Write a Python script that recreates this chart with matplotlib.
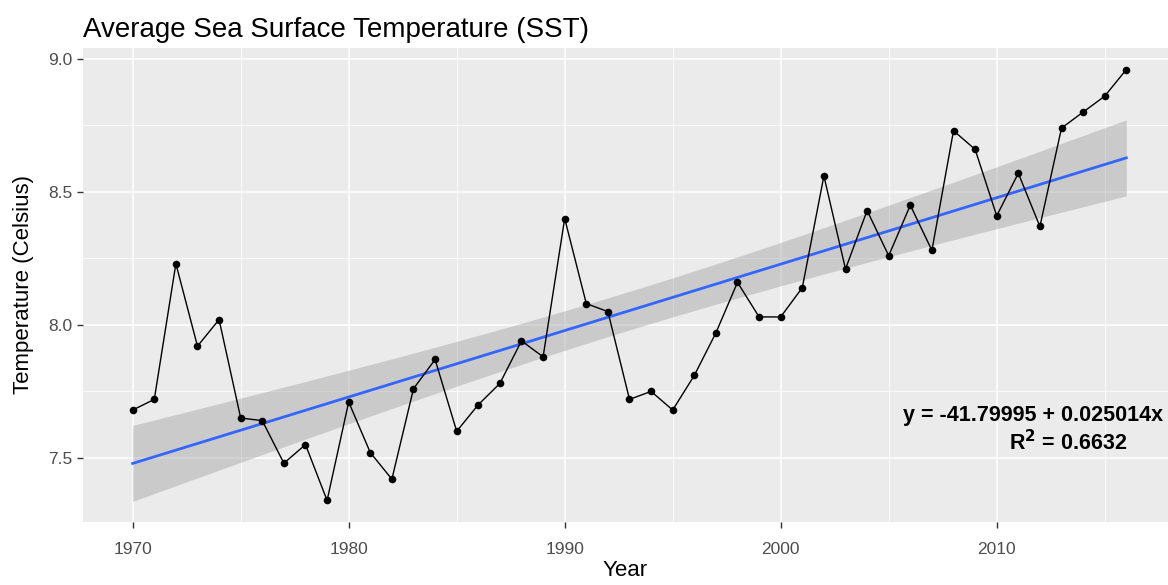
import numpy as np
import matplotlib
matplotlib.use("Agg")
import matplotlib.pyplot as plt
from matplotlib.ticker import MultipleLocator

plt.rcParams["font.family"] = ["Liberation Sans", "DejaVu Sans"]

years = np.arange(1970, 2017)
sst = np.array([
    7.68, 7.72, 8.23, 7.92, 8.02, 7.65, 7.64, 7.48, 7.55, 7.34,
    7.71, 7.52, 7.42, 7.76, 7.87, 7.60, 7.70, 7.78, 7.94, 7.88,
    8.40, 8.08, 8.05, 7.72, 7.75, 7.68, 7.81, 7.97, 8.16, 8.03,
    8.03, 8.14, 8.56, 8.21, 8.43, 8.26, 8.45, 8.28, 8.73, 8.66,
    8.41, 8.57, 8.37, 8.74, 8.80, 8.86, 8.96,
])
eq_text = "y = -41.79995 + 0.025014x"
r2_text = r"R$^\mathbf{2}$ = 0.6632"

# linear fit with 95% confidence band (like geom_smooth(method="lm"))
slope, icpt = np.polyfit(years, sst, 1)
xfit = np.linspace(years.min(), years.max(), 200)
yfit = icpt + slope * xfit
n = len(years)
resid = sst - (icpt + slope * years)
s = np.sqrt(np.sum(resid ** 2) / (n - 2))
tval = 2.0141  # t(0.975, df=45)
se = s * np.sqrt(1.0 / n + (xfit - years.mean()) ** 2 / np.sum((years - years.mean()) ** 2))

fig = plt.figure(figsize=(11.68, 5.85), dpi=100)
ax = fig.add_axes([83 / 1168, 1 - 522 / 585, 1 - 83 / 1168, (522 - 48) / 585])
ax.set_facecolor("#EBEBEB")
for sp in ax.spines.values():
    sp.set_visible(False)

ax.xaxis.set_major_locator(MultipleLocator(10))
ax.xaxis.set_minor_locator(MultipleLocator(5))
ax.yaxis.set_major_locator(MultipleLocator(0.5))
ax.yaxis.set_minor_locator(MultipleLocator(0.25))
ax.grid(which="major", color="white", lw=1.1)
ax.grid(which="minor", color="white", lw=0.55)
ax.set_axisbelow(True)

ax.fill_between(xfit, yfit - tval * se, yfit + tval * se, color="#999999", alpha=0.4, lw=0, zorder=2)
ax.plot(xfit, yfit, color="#3366FF", lw=2, zorder=3)
ax.plot(years, sst, color="black", lw=1, zorder=4)
ax.scatter(years, sst, s=30, color="black", zorder=5, linewidths=0)

ax.set_xlim(1967.7, 2017.93)
ax.set_ylim(7.259, 9.041)
ax.set_yticks([7.5, 8.0, 8.5, 9.0])
ax.set_yticklabels(["7.5", "8.0", "8.5", "9.0"])

ax.tick_params(which="major", length=4.5, width=1, color="#333333", labelcolor="#4D4D4D", labelsize=12.5)
ax.tick_params(axis="x", which="major", pad=10)
ax.tick_params(axis="y", which="major", pad=3)
ax.tick_params(which="minor", length=0)
ax.set_xlabel("Year", fontsize=16, labelpad=2)
ax.set_ylabel("Temperature (Celsius)", fontsize=16, labelpad=10)

fig.text(83 / 1168, 1 - 37 / 585, "Average Sea Surface Temperature (SST)", fontsize=20,
         ha="left", va="baseline")

ax.text(2017.7, 7.658, eq_text, fontsize=15.5, fontweight="bold", ha="right", va="center")
ax.text(2016.03, 7.556, r2_text, fontsize=15.5, fontweight="bold", ha="right", va="center")

fig.savefig("out.png", dpi=100)
